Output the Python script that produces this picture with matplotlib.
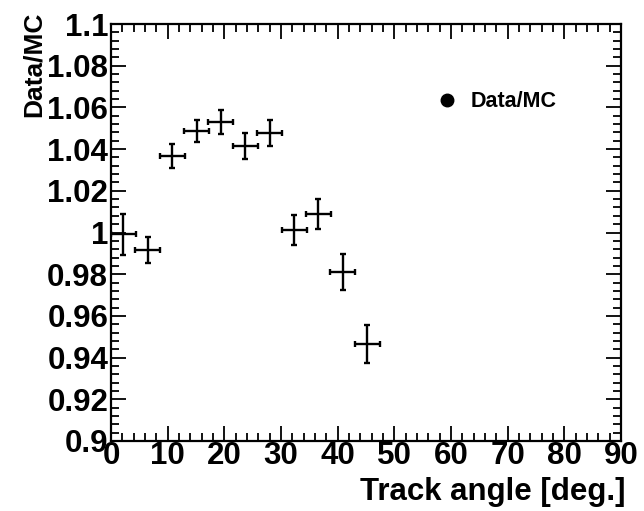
"""
Data/MC ratio vs track angle, ROOT-style cross markers.
"""
import numpy as np
import matplotlib.pyplot as plt
from matplotlib.lines import Line2D
from matplotlib.ticker import MultipleLocator

plt.rcParams["font.family"] = ["Liberation Sans", "DejaVu Sans"]
plt.rcParams["font.weight"] = "bold"

# bin centres (deg), half widths, ratio, stat error
angle = [2.2, 6.5, 10.8, 15.1, 19.4, 23.7, 28.0, 32.3, 36.6, 40.9, 45.2]
angle_err = [2.2] * 11
ratio = [0.9991, 0.9915, 1.0367, 1.0485, 1.0530, 1.0416, 1.0479,
         1.0012, 1.0089, 0.9809, 0.9465]
ratio_err = [0.0100, 0.0062, 0.0058, 0.0053, 0.0057, 0.0062, 0.0062,
             0.0070, 0.0074, 0.0086, 0.0092]

fig = plt.figure(figsize=(6.44, 5.11), dpi=100)
ax = fig.add_axes([0.1724, 0.137, 0.7919, 0.816])

ax.errorbar(angle, ratio, xerr=angle_err, yerr=ratio_err, fmt="none",
            ecolor="black", elinewidth=1.7, capsize=2.2, capthick=1.7)

ax.set_xlim(0, 90)
ax.set_ylim(0.9, 1.1)
ax.xaxis.set_major_locator(MultipleLocator(10))
ax.xaxis.set_minor_locator(MultipleLocator(2))
ax.yaxis.set_minor_locator(MultipleLocator(0.004))
ax.set_yticks(np.arange(0.9, 1.1001, 0.02))
ax.set_yticklabels(["0.9", "0.92", "0.94", "0.96", "0.98", "1",
                    "1.02", "1.04", "1.06", "1.08", "1.1"])

ax.tick_params(which="both", direction="in", top=True, right=True,
               labelsize=22.5, width=1.3, pad=2)
ax.tick_params(which="major", length=11)
ax.tick_params(which="minor", length=6)
ax.tick_params(axis="x", pad=0)
for s in ax.spines.values():
    s.set_linewidth(1.6)

ax.set_xlabel("Track angle [deg.]", fontsize=22.5, fontweight="bold",
              loc="right")
ax.xaxis.set_label_coords(1.008, -0.086)
ax.set_ylabel("Data/MC", fontsize=19, fontweight="bold", loc="top")
ax.yaxis.set_label_coords(-0.128, 1.03)

proxy = Line2D([], [], ls="none", marker="o", color="black", markersize=9)
ax.legend([proxy], ["Data/MC"], loc="center left",
          bbox_to_anchor=(0.60, 0.813), frameon=False, handlelength=1.0,
          handletextpad=0.6, prop={"size": 15.5, "weight": "bold"})

plt.savefig("out.png", dpi=100)
